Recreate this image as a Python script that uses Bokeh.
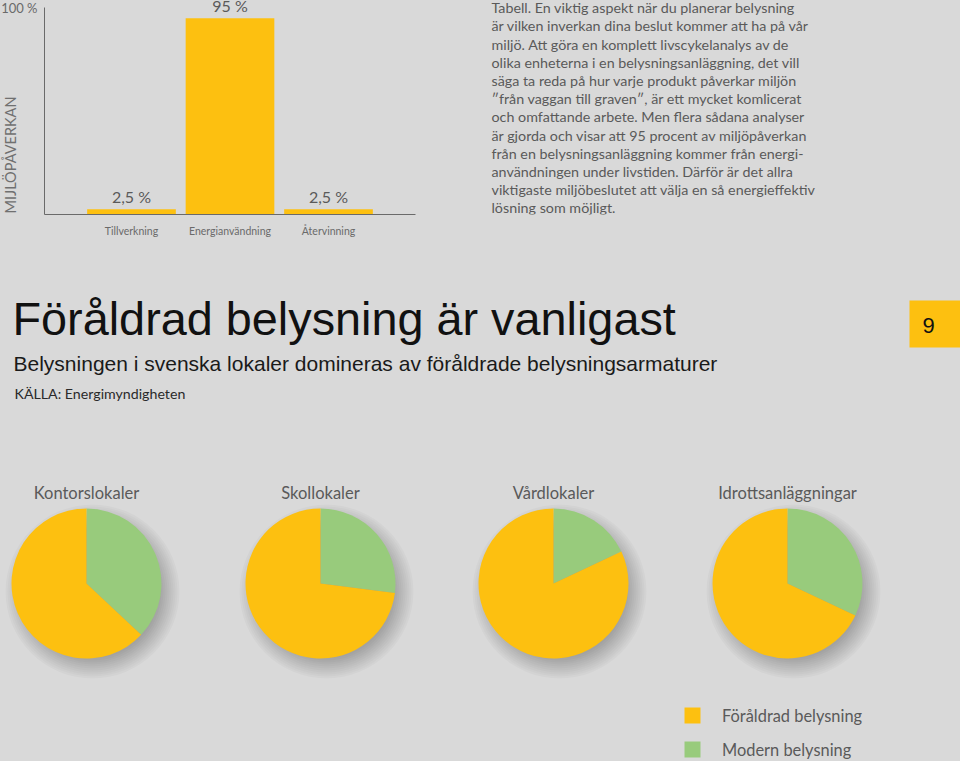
import numpy as np
from bokeh.plotting import figure
from bokeh.layouts import column, row
from bokeh.models import Range1d, FixedTicker, ColumnDataSource, Legend, LegendItem
from bokeh.core.properties import value
from bokeh.embed import file_html
from bokeh.resources import INLINE

# ---------------- data ----------------
bar_categories = ["Tillverkning", "Energianvändning", "Återvinning"]
bar_values = [2.5, 95.0, 2.5]
bar_labels = ["2,5 %", "95 %", "2,5 %"]
y_axis_title = "MIJLÖPÅVERKAN"
y_max_tick = 100
y_max_label = "100 %"

paragraph_lines = [
    "Tabell. En viktig aspekt när du planerar belysning",
    "är vilken inverkan dina beslut kommer att ha på vår",
    "miljö. Att göra en komplett livscykelanalys av de",
    "olika enheterna i en belysningsanläggning, det vill",
    "säga ta reda på hur varje produkt påverkar miljön",
    "\u2033från vaggan till graven\u2033, är ett mycket komlicerat",
    "och omfattande arbete. Men flera sådana analyser",
    "är gjorda och visar att 95 procent av miljöpåverkan",
    "från en belysningsanläggning kommer från energi-",
    "användningen under livstiden. Därför är det allra",
    "viktigaste miljöbeslutet att välja en så energieffektiv",
    "lösning som möjligt.",
]

title_text = "Föråldrad belysning är vanligast"
subtitle_text = "Belysningen i svenska lokaler domineras av föråldrade belysningsarmaturer"
source_text = "KÄLLA: Energimyndigheten"
page_number = "9"

pie_categories = ["Kontorslokaler", "Skollokaler", "Vårdlokaler", "Idrottsanläggningar"]
modern_share = [37, 27, 18, 32]   # Modern belysning (green)
old_share = [63, 73, 82, 68]      # Föråldrad belysning (yellow)
series_names = ["Föråldrad belysning", "Modern belysning"]

# ---------------- style ----------------
BG = "#d9d9d9"
YELLOW = "#fdc010"
GREEN = "#98cb7c"
GRAY = "#5a5a5a"
AXIS_GRAY = "#6a6a6a"
BODY_FONT = "Lato"
HEAD_FONT = "Liberation Sans"
BGSTYLE = {"background-color": BG}


def styled(p):
    p.background_fill_color = BG
    p.border_fill_color = BG
    p.outline_line_color = None
    p.grid.visible = False
    return p


# ---------------- bar chart ----------------
TOP_H = 250
FRAME_H = 214
y_end = y_max_tick * FRAME_H / 206.6
shared_y = Range1d(0, y_end)

lab = figure(width=43, height=TOP_H, output_backend="svg", toolbar_location=None,
             x_range=Range1d(0, 43), y_range=shared_y,
             x_axis_location=None, y_axis_location=None,
             min_border_left=0, min_border_right=0, min_border_top=0,
             min_border_bottom=TOP_H - FRAME_H)
styled(lab)
lab.text(x=[37], y=[y_max_tick], text=[y_max_label], text_align="right", text_baseline="middle",
         text_font=value(BODY_FONT), text_font_size="13px", text_color=AXIS_GRAY)
lab.text(x=[10], y=[(FRAME_H - 154.5) / FRAME_H * y_end], text=[y_axis_title],
         angle=np.pi / 2, text_align="center", text_baseline="middle",
         text_font=value(BODY_FONT), text_font_size="14.5px", text_color="#707070")

n = len(bar_categories)
xs = list(range(n))
bar = figure(width=437, height=TOP_H, output_backend="svg", toolbar_location=None,
             x_range=Range1d(-0.883, n - 1 + 0.883), y_range=shared_y,
             min_border_left=1, min_border_right=437 - 1 - 371, min_border_top=0,
             min_border_bottom=TOP_H - FRAME_H)
styled(bar)
bar.vbar(x=xs, top=bar_values, width=0.9, color=YELLOW, line_color=None)
bar.text(x=xs, y=bar_values, text=bar_labels, y_offset=-13, text_align="center",
         text_baseline="alphabetic", text_font=value(BODY_FONT), text_font_size="16px",
         text_color=GRAY)

bar.xaxis.ticker = FixedTicker(ticks=xs)
bar.xaxis.major_label_overrides = {i: c for i, c in zip(xs, bar_categories)}
bar.xaxis.major_tick_line_color = None
bar.xaxis.major_tick_out = 0
bar.xaxis.major_tick_in = 0
bar.xaxis.minor_tick_line_color = None
bar.xaxis.axis_line_color = AXIS_GRAY
bar.xaxis.major_label_text_font = BODY_FONT
bar.xaxis.major_label_text_font_size = "10.5px"
bar.xaxis.major_label_text_color = AXIS_GRAY
bar.xaxis.major_label_standoff = 10

bar.yaxis.ticker = FixedTicker(ticks=[])
bar.yaxis.bounds = (0, y_max_tick)
bar.yaxis.major_tick_line_color = None
bar.yaxis.major_tick_out = 0
bar.yaxis.major_tick_in = 0
bar.yaxis.minor_tick_line_color = None
bar.yaxis.major_label_standoff = 0
bar.yaxis.axis_line_color = AXIS_GRAY

# ---------------- paragraph ----------------
PFS = 14.3
para = figure(width=480, height=TOP_H, output_backend="svg", toolbar_location=None,
              x_range=Range1d(0, 480), y_range=Range1d(FRAME_H, 0),
              x_axis_location=None, y_axis_location=None,
              min_border_left=0, min_border_right=0, min_border_top=0,
              min_border_bottom=TOP_H - FRAME_H)
styled(para)
para.text(x=[11] * len(paragraph_lines),
          y=[11.5 - 0.3 * PFS + 18.2 * i for i in range(len(paragraph_lines))],
          text=paragraph_lines, text_align="left", text_baseline="alphabetic",
          text_font=value(BODY_FONT), text_font_size=f"{PFS}px", text_color=GRAY)

# ---------------- heading ----------------
head = figure(width=960, height=220, output_backend="svg", toolbar_location=None,
              x_range=Range1d(0, 960), y_range=Range1d(220, 0),
              x_axis_location=None, y_axis_location=None, min_border=0)
styled(head)
head.text(x=[12], y=[84 - 0.33 * 46.8], text=[title_text], text_baseline="alphabetic",
          text_font=value(HEAD_FONT), text_font_size="46.8px", text_color="#111111")
head.text(x=[13], y=[120 - 0.33 * 21], text=[subtitle_text], text_baseline="alphabetic",
          text_font=value(HEAD_FONT), text_font_size="21px", text_color="#1a1a1a")
head.text(x=[14], y=[148 - 0.33 * 14.2], text=[source_text], text_baseline="alphabetic",
          text_font=value(BODY_FONT), text_font_size="14.2px", text_color="#2a2a2a")
head.quad(left=[909], right=[960], top=[50], bottom=[97], color=YELLOW, line_color=None)
head.text(x=[928], y=[75], text=[page_number], text_align="center", text_baseline="middle",
          text_font=value(HEAD_FONT), text_font_size="22px", text_color="#111111")

# ---------------- pies ----------------
fig_widths = [200, 240, 220, 300]
center_offsets = [86, 120, 113, 127]
pie_row_h = 291
cy_from_top = 113
R = 75
pies = []
last_renderer = None
for k, name in enumerate(pie_categories):
    w = fig_widths[k]
    off = center_offsets[k]
    p = figure(width=w, height=pie_row_h, output_backend="svg", toolbar_location=None,
               x_range=Range1d(-off, w - off),
               y_range=Range1d(-(pie_row_h - cy_from_top), cy_from_top),
               x_axis_location=None, y_axis_location=None, min_border=0)
    styled(p)
    # soft drop shadow
    for rr in range(R - 12, R + 14, 2):
        p.circle(x=[6], y=[-8], radius=rr, fill_color="black", fill_alpha=0.024, line_color=None)
    vals = np.array([modern_share[k], old_share[k]], dtype=float)
    cum = np.concatenate([[0.0], np.cumsum(vals) / vals.sum()])
    src = ColumnDataSource(dict(
        start=np.pi / 2 - 2 * np.pi * cum[:-1],
        end=np.pi / 2 - 2 * np.pi * cum[1:],
        color=[GREEN, YELLOW],
    ))
    r = p.wedge(x=0, y=0, radius=R, start_angle="start", end_angle="end", direction="clock",
                fill_color="color", line_color=None, source=src)
    p.text(x=[0], y=[91], text=[name], text_align="center", text_baseline="middle",
           text_font=value(BODY_FONT), text_font_size="16.5px", text_color=GRAY)
    pies.append(p)
    last_renderer = r

legend = Legend(items=[LegendItem(label=series_names[0], renderers=[last_renderer], index=1),
                       LegendItem(label=series_names[1], renderers=[last_renderer], index=0)],
                location=(22, 2), orientation="vertical", glyph_width=20, glyph_height=20,
                label_standoff=20, spacing=14, padding=0, margin=0, border_line_color=None,
                background_fill_alpha=0, label_text_font=BODY_FONT, label_text_font_size="16.4px",
                label_text_color=GRAY, label_height=20)
pies[-1].add_layout(legend)

layout = column(row(lab, bar, para, styles=BGSTYLE), head, row(*pies, styles=BGSTYLE),
                styles=BGSTYLE)
open("out.html", "w").write(file_html(layout, INLINE))
